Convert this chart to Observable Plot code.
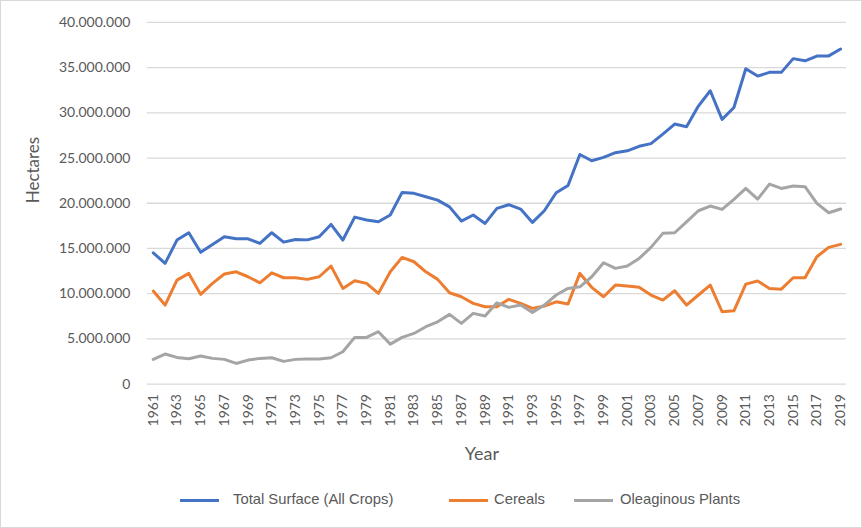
<!DOCTYPE html>
<html><head><meta charset="utf-8">
<script src="https://cdn.jsdelivr.net/npm/d3@7"></script>
<script src="https://cdn.jsdelivr.net/npm/@observablehq/plot@0.6"></script>
<style>
body{margin:0;background:#fff;}
#wrap{position:relative;width:862px;height:528px;box-sizing:border-box;border:1px solid #d9d9d9;overflow:hidden;background:#fff}
#chart{position:absolute;left:-1px;top:-1px}
.sw{position:absolute;top:498px;width:39px;height:3px}
.lt{position:absolute;top:490px;height:20px;line-height:20px;font:14.8px "Liberation Sans",Arial,sans-serif;color:#595959;white-space:nowrap}
</style>
</head><body>
<div id="wrap"><div id="chart"></div></div>
<script>
const years = d3.range(1961, 2020);
const totalSurface = [14.52,13.35,15.93,16.74,14.57,15.45,16.3,16.07,16.07,15.56,16.74,15.7,16.0,15.95,16.3,17.66,15.93,18.47,18.14,17.96,
  18.7,21.2,21.1,20.72,20.35,19.6,18.03,18.7,17.77,19.43,19.84,19.36,17.88,19.17,21.16,21.97,25.4,24.7,25.07,25.59,
  25.8,26.3,26.6,27.65,28.76,28.47,30.75,32.45,29.28,30.6,34.88,34.07,34.48,34.48,36.0,35.76,36.28,36.3,37.06];
const cereals = [10.29,8.74,11.5,12.24,9.92,11.14,12.17,12.42,11.87,11.2,12.31,11.76,11.76,11.58,11.87,13.05,10.58,11.43,11.14,10.03,
  12.42,14.01,13.53,12.42,11.58,10.1,9.66,8.93,8.55,8.55,9.37,8.93,8.37,8.63,9.1,8.85,12.24,10.7,9.66,10.95,
  10.84,10.7,9.85,9.29,10.32,8.74,9.85,10.95,8.0,8.1,11.06,11.4,10.58,10.5,11.76,11.76,14.08,15.12,15.45];
const oleaginous = [2.73,3.32,2.95,2.8,3.1,2.84,2.73,2.28,2.65,2.84,2.91,2.51,2.73,2.76,2.76,2.91,3.57,5.16,5.16,5.79,
  4.42,5.16,5.6,6.34,6.89,7.71,6.71,7.82,7.52,8.99,8.48,8.74,7.93,8.74,9.85,10.58,10.76,11.87,13.42,12.8,
  13.05,13.9,15.12,16.67,16.74,17.95,19.17,19.69,19.32,20.43,21.64,20.46,22.12,21.64,21.9,21.83,19.99,18.95,19.36];
const seriesNames = ["Total Surface (All Crops)", "Cereals", "Oleaginous Plants"];
const seriesColors = ["#4472C4", "#ED7D31", "#A5A5A5"];
const yTicks = [0, 5e6, 10e6, 15e6, 20e6, 25e6, 30e6, 35e6, 40e6];
const xTickYears = d3.range(1961, 2020, 2);

const seriesValues = [totalSurface, cereals, oleaginous];
const data = [];
seriesNames.forEach((s, i) => years.forEach((yr, j) => data.push({series: s, year: yr, value: seriesValues[i][j] * 1e6})));

const fmt = d3.formatLocale({decimal: ",", thousands: ".", grouping: [3], currency: ["", "€"]}).format(",.0f");

const plot = Plot.plot({
  width: 862, height: 470,
  marginLeft: 147, marginRight: 15, marginTop: 22, marginBottom: 86,
  style: {fontFamily: "Lato, 'Open Sans', sans-serif", fontSize: "14px", color: "#595959", background: "white", overflow: "visible"},
  x: {type: "point", domain: years, padding: 0.5},
  y: {domain: [0, 40e6]},
  color: {domain: seriesNames, range: seriesColors},
  marks: [
    Plot.ruleY(yTicks, {stroke: "#d9d9d9", strokeWidth: 1.3}),
    Plot.axisY({ticks: yTicks, tickSize: 0, tickPadding: 17, tickFormat: fmt, label: null}),
    Plot.axisX({ticks: xTickYears, tickSize: 0, tickPadding: 10, tickRotate: -90, tickFormat: d => String(d), label: null, fontSize: 14}),
    Plot.line(data, {x: "year", y: "value", z: "series", stroke: "series", strokeWidth: 3, strokeLinejoin: "round", strokeLinecap: "round"}),
    Plot.text(["Hectares"], {frameAnchor: "left", dx: -114, rotate: -90, fontSize: 17}),
    Plot.text(["Year"], {frameAnchor: "bottom", dx: -15, dy: 76, fontSize: 18})
  ]
});
document.getElementById("chart").appendChild(plot);

const swatchLefts = [179, 448, 573];
const textLefts = [232, 493, 619];
const wrap = document.getElementById("wrap");
seriesNames.forEach((s, i) => {
  const sw = document.createElement("div");
  sw.className = "sw";
  sw.style.left = swatchLefts[i] + "px";
  sw.style.background = seriesColors[i];
  wrap.appendChild(sw);
  const t = document.createElement("div");
  t.className = "lt";
  t.style.left = textLefts[i] + "px";
  t.textContent = s;
  wrap.appendChild(t);
});
</script>
</body></html>
